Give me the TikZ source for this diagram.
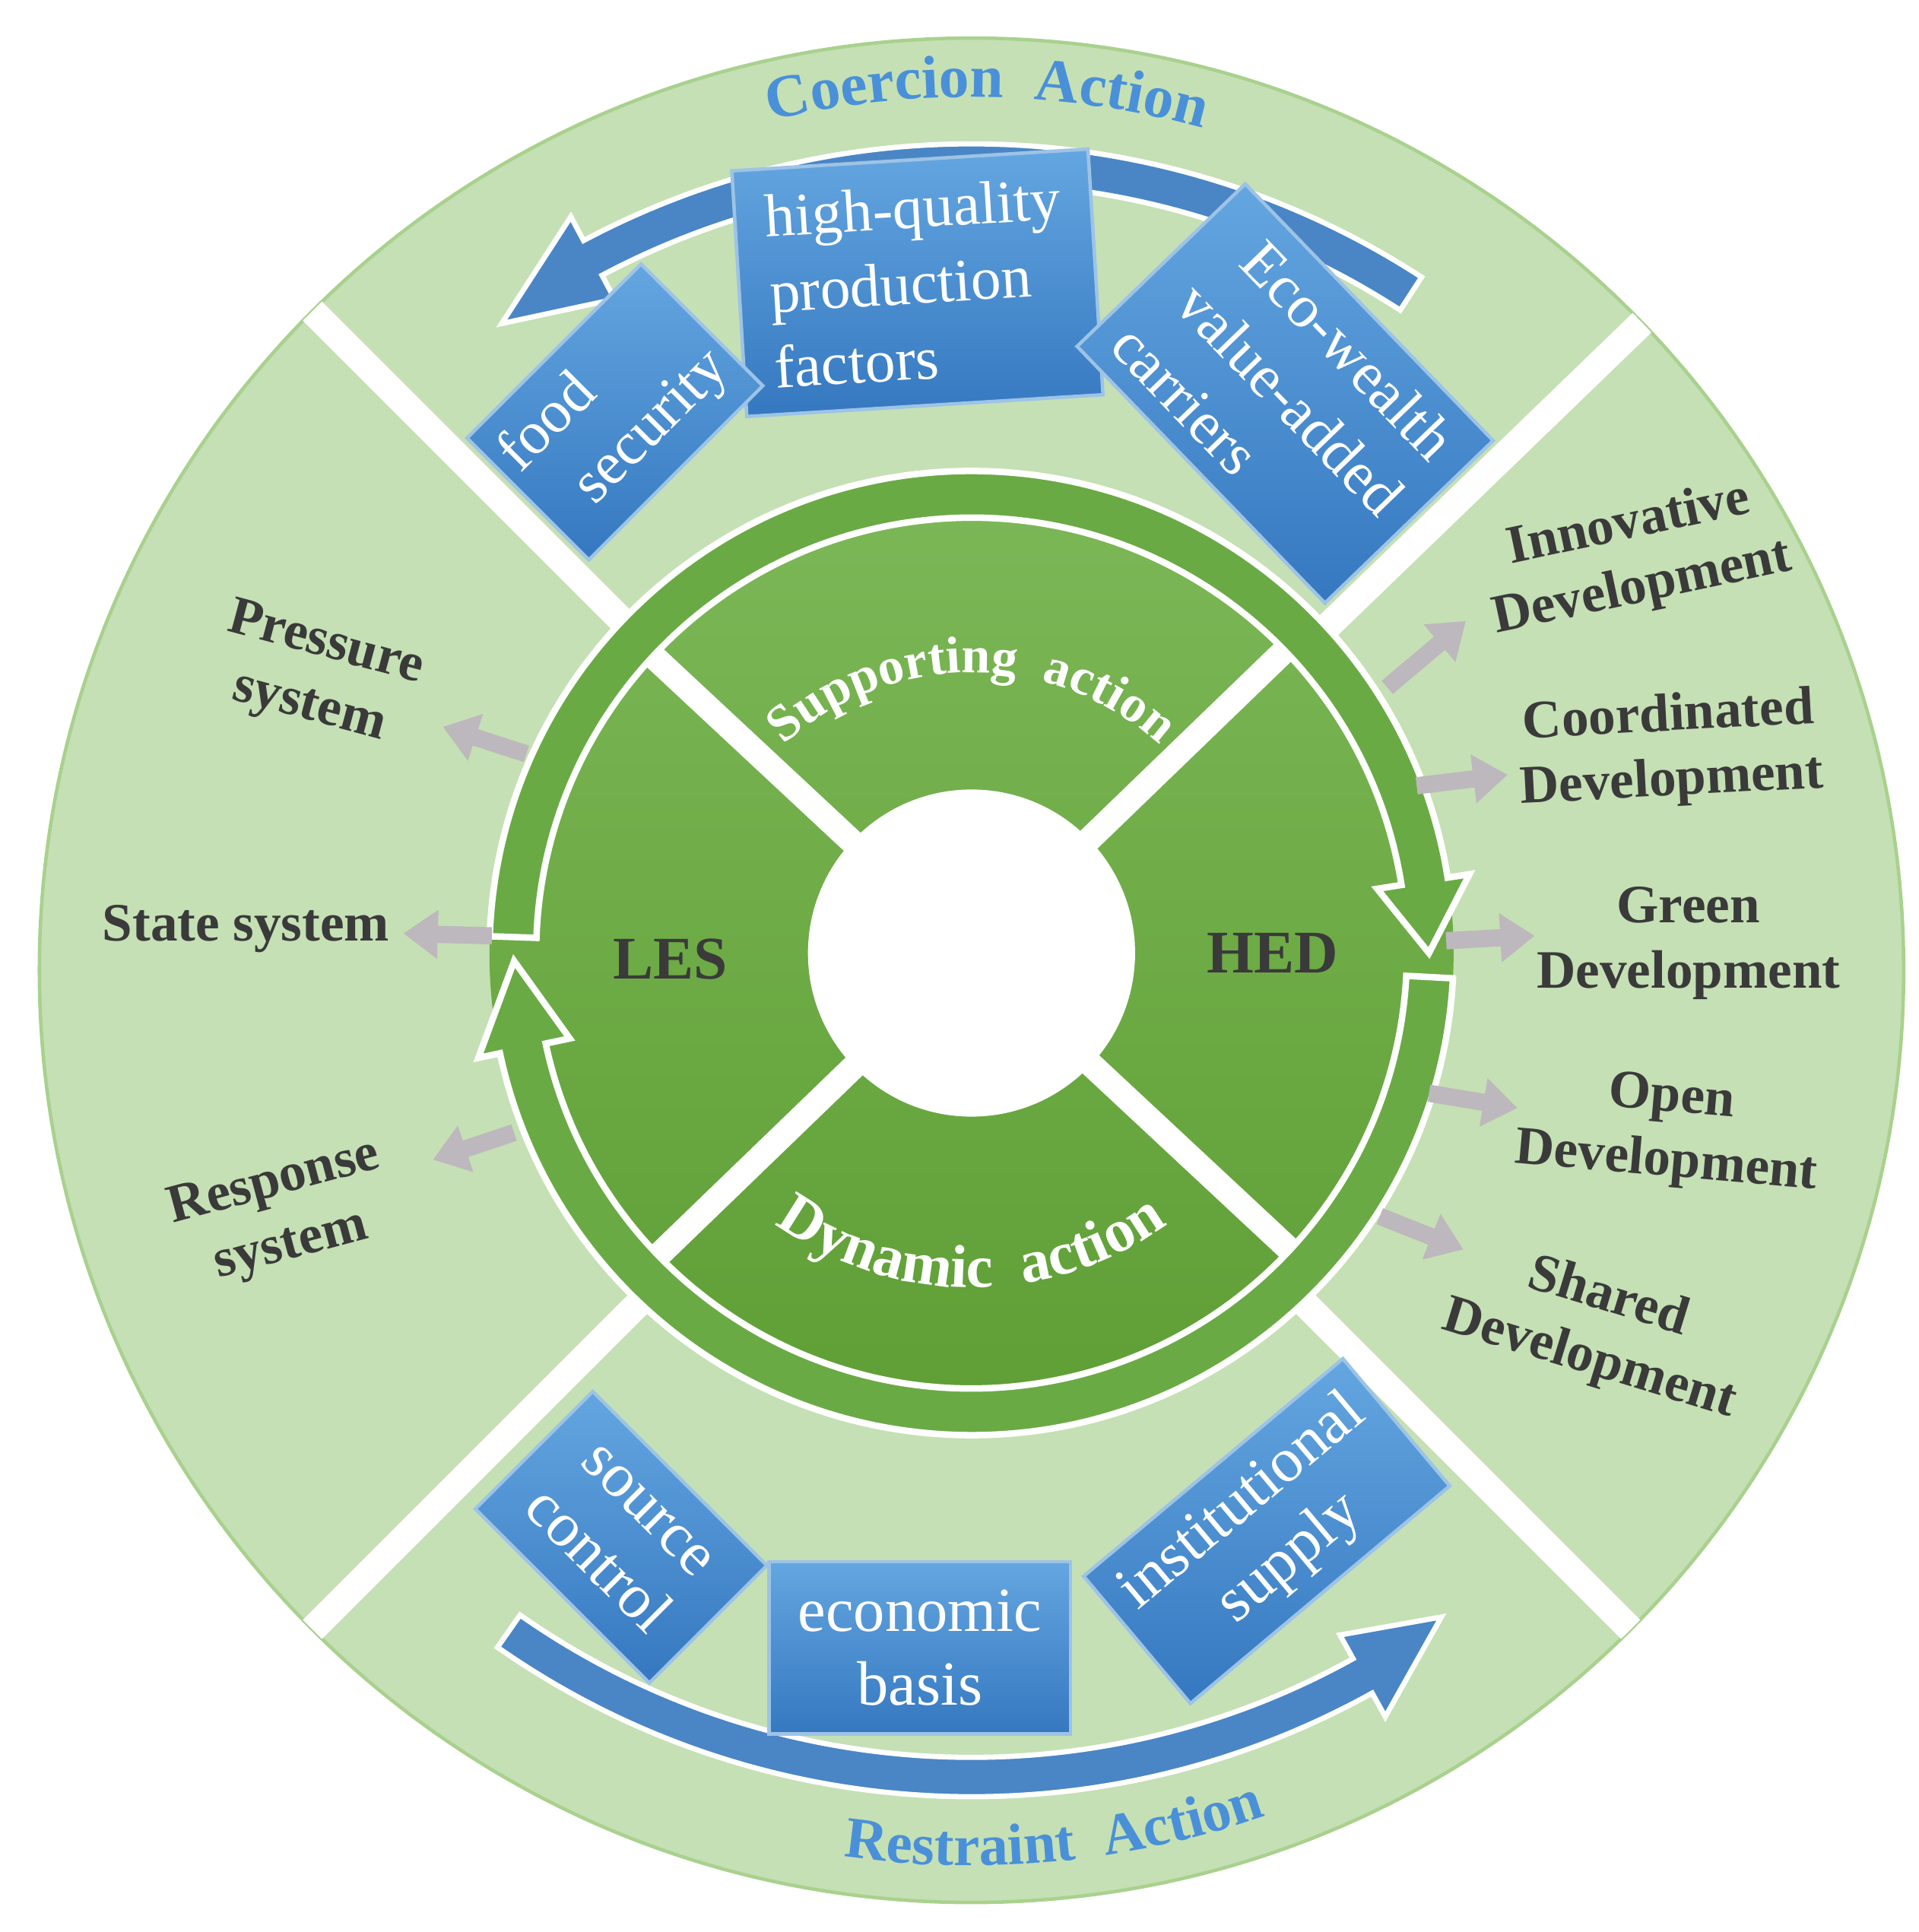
\documentclass[tikz,border=0pt]{standalone}
\usepackage{fontspec}
\setmainfont{Liberation Serif}
\usetikzlibrary{calc,arrows.meta,decorations.text}
\definecolor{lgreen}{HTML}{C5E0B4}
\definecolor{lgreenline}{HTML}{A9D18E}
\definecolor{dgtop}{HTML}{7DB858}
\definecolor{dgbot}{HTML}{5E9E34}
\definecolor{dgreen}{HTML}{6AAA45}
\definecolor{btop}{HTML}{64A6E0}
\definecolor{bbot}{HTML}{3578C0}
\definecolor{bedge}{HTML}{9DC3E6}
\definecolor{ablue}{HTML}{4A86C5}
\definecolor{tblue}{HTML}{4A90D9}
\definecolor{garr}{HTML}{BDB8BD}
\definecolor{lab}{HTML}{3A3A3A}
\begin{document}
\begin{tikzpicture}[x=0.01cm,y=0.01cm,
  bbox/.style={draw=bedge,line width=0.8pt,top color=btop,bottom color=bbot,text=white,
     font=\fontsize{14}{17.5}\selectfont,inner sep=2pt},
  garrow/.style={draw=garr,line width=0.14cm,-{Triangle[width=0.38cm,length=0.28cm]}},
  lbl/.style={text=lab,font=\fontsize{12.5}{15}\selectfont\bfseries,align=center},
  sep/.style={draw=white,line width=0.22cm}]
\useasboundingbox (0,0) rectangle (1560,1571);
\coordinate (C) at (790,782);
\coordinate (O) at (790,796);
% outer ring
\fill[lgreen,draw=lgreenline,line width=0.8pt] (C) circle[radius=758];
\begin{scope}
\clip (C) circle[radius=758];
\foreach \a in {135,44,225,315} \draw[sep] (C) -- ++(\a:780);
\end{scope}
% blue curved arrows
\fill[ablue,draw=white,line width=1.2pt] ($(C)+(57:672)$) arc[start angle=57,end angle=118,radius=672]
  -- ($(C)+(118:694)$) -- ($(C)+(126:650)$) -- ($(C)+(118:618)$) -- ($(C)+(118:640)$)
  arc[start angle=118,end angle=57,radius=640] -- cycle;
\fill[ablue,draw=white,line width=1.2pt] ($(C)+(235:672)$) arc[start angle=235,end angle=299,radius=672]
  -- ($(C)+(299:694)$) -- ($(C)+(306:650)$) -- ($(C)+(299:618)$) -- ($(C)+(299:640)$)
  arc[start angle=299,end angle=235,radius=640] -- cycle;
% dark disk
\shade[top color=dgtop,bottom color=dgbot] (O) circle[radius=392];
\foreach \a in {137,44,224,317} \draw[sep,line width=0.2cm] (O) -- ++(\a:352);
% ring arrows
\fill[dgreen,draw=white,line width=1.5pt] ($(O)+(178:392)$) arc[start angle=178,end angle=9,radius=392]
  -- ($(O)+(9:410)$) -- ($(O)+(0:372)$) -- ($(O)+(9:334)$) -- ($(O)+(9:354)$)
  arc[start angle=9,end angle=178,radius=354] -- cycle;
\fill[dgreen,draw=white,line width=1.5pt] ($(O)+(-3:392)$) arc[start angle=-3,end angle=-168,radius=392]
  -- ($(O)+(-168:410)$) -- ($(O)+(-179:372)$) -- ($(O)+(-168:334)$) -- ($(O)+(-168:354)$)
  arc[start angle=-168,end angle=-3,radius=354] -- cycle;
\fill[white] (O) circle[radius=133];
% arc texts
\path[decorate,decoration={text along path,text align=center,
  text={|\fontsize{12}{12}\selectfont\bfseries\color{white}|Supporting \ action}}]
  ($(O)+(135:228)$) arc[start angle=135,end angle=45,radius=228];
\path[decorate,decoration={text along path,text align=center,
  text={|\fontsize{14}{14}\selectfont\bfseries\color{white}|Dynamic \ action}}]
  ($(O)+(236:272)$) arc[start angle=236,end angle=304,radius=272];
\path[decorate,decoration={text along path,text align=center,
  text={|\fontsize{14}{14}\selectfont\bfseries\color{tblue}|Coercion \ Action}}]
  ($(C)+(118:710)$) arc[start angle=118,end angle=60,radius=710];
\path[decorate,decoration={text along path,text align=center,
  text={|\fontsize{13.5}{14}\selectfont\bfseries\color{tblue}|Restraint \ Action}}]
  ($(C)+(250:728)$) arc[start angle=250,end angle=301,radius=728];
\node[lbl,font=\fontsize{14}{16}\selectfont\bfseries] (les) at (545,791) {LES};
\node[lbl,font=\fontsize{14}{16}\selectfont\bfseries] (hed) at (1035,796) {HED};
% blue boxes
\node[bbox,rotate=3.5,minimum width=2.9cm,minimum height=2.0cm,align=left] (hq) at (746,1341) {high-quality\\production\\factors};
\node[bbox,rotate=45,minimum width=2.0cm,minimum height=1.4cm,align=left] (fs) at (500,1236) {food\\\ \ security};
\node[bbox,rotate=-46,minimum width=2.9cm,minimum height=1.9cm,align=left] (eco) at (1045,1251) {\ \ Eco-wealth\\\ value-added\\carriers};
\node[bbox,rotate=-45,minimum width=2.0cm,minimum height=1.35cm,align=center,font=\fontsize{14.5}{17}\selectfont] (sc) at (505,321) {source\\control};
\node[bbox,minimum width=2.45cm,minimum height=1.4cm,align=center,font=\fontsize{14.5}{17}\selectfont] (eb) at (748,231) {economic\\basis};
\node[bbox,rotate=40,minimum width=2.75cm,minimum height=1.35cm,align=center,font=\fontsize{14.5}{17}\selectfont] (is) at (1030,326) {institutional\\supply};
% left labels
\node[lbl,rotate=-15] (ps) at (258,1021) {Pressure\\system};
\node[lbl] (ss) at (200,816) {State system};
\node[lbl,rotate=15] (rs) at (230,583) {Response\\system};
\coordinate (a1s) at (428,958); \coordinate (a1e) at (360,980);
\coordinate (a2s) at (400,810); \coordinate (a2e) at (328,812);
\coordinate (a3s) at (418,650); \coordinate (a3e) at (352,628);
\draw[garrow] (a1s) -- (a1e);
\draw[garrow] (a2s) -- (a2e);
\draw[garrow] (a3s) -- (a3e);
% right labels
\node[lbl,rotate=12] (id) at (1330,1118) {Innovative\\Development};
\node[lbl,rotate=3] (cd) at (1358,961) {Coordinated\\Development};
\node[lbl] (gd) at (1373,804) {Green\\Development};
\node[lbl,rotate=-5] (od) at (1357,651) {Open\\Development};
\node[lbl,rotate=-17] (sd) at (1300,490) {Shared\\Development};
\coordinate (b1s) at (1128,1012); \coordinate (b1e) at (1192,1066);
\coordinate (b2s) at (1152,932); \coordinate (b2e) at (1226,941);
\coordinate (b3s) at (1176,806); \coordinate (b3e) at (1248,810);
\coordinate (b4s) at (1162,682); \coordinate (b4e) at (1234,670);
\coordinate (b5s) at (1122,582); \coordinate (b5e) at (1190,555);
\draw[garrow] (b1s) -- (b1e);
\draw[garrow] (b2s) -- (b2e);
\draw[garrow] (b3s) -- (b3e);
\draw[garrow] (b4s) -- (b4e);
\draw[garrow] (b5s) -- (b5e);
\end{tikzpicture}
\end{document}
